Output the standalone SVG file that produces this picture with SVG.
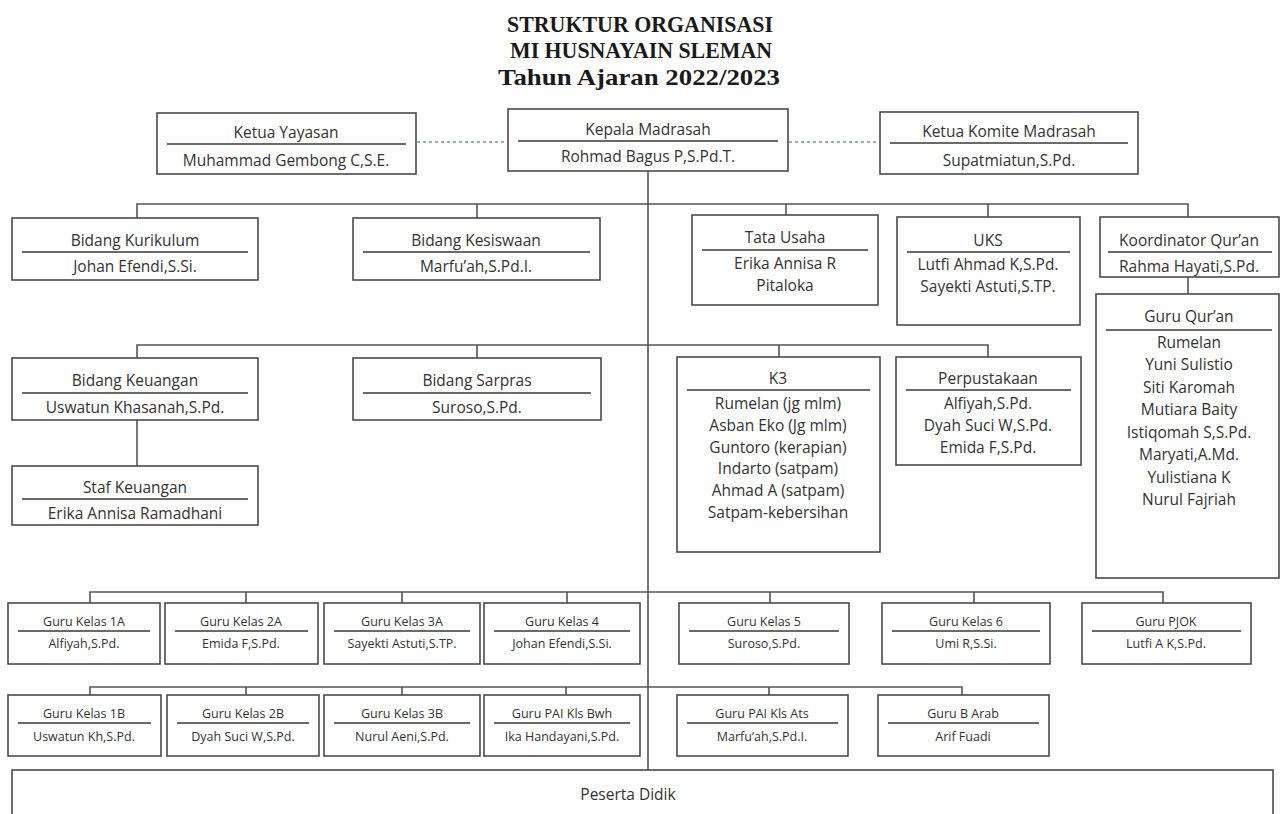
<svg xmlns="http://www.w3.org/2000/svg" width="1280" height="814" viewBox="0 0 1280 814">
<style>
.bg{fill:#ffffff}
.box{fill:#ffffff;stroke:#4a4a4a;stroke-width:1.6}
.sep{stroke:#6a6a6a;stroke-width:2}
.t{font-family:"Open Sans",Lato,"Liberation Sans",sans-serif;font-size:15.5px;fill:#333;text-anchor:middle}
.s{font-family:"Open Sans",Lato,"Liberation Sans",sans-serif;font-size:12.5px;fill:#333;text-anchor:middle}
.title{font-family:"Liberation Serif","DejaVu Serif",serif;font-weight:bold;font-size:24px;fill:#1a1a1a;text-anchor:middle}
.conn{stroke:#555;stroke-width:1.6;fill:none}
.dot{stroke:#8fb0c2;stroke-width:2;stroke-dasharray:3 3;fill:none}
</style>
<rect class="bg" x="0" y="0" width="1280" height="814"/>
<g id="title">
<text class="title" x="640" y="32" textLength="266" lengthAdjust="spacingAndGlyphs">STRUKTUR ORGANISASI</text>
<text class="title" x="641" y="58" textLength="262" lengthAdjust="spacingAndGlyphs">MI HUSNAYAIN SLEMAN</text>
<text class="title" x="639" y="85" textLength="282" lengthAdjust="spacingAndGlyphs">Tahun Ajaran 2022/2023</text>
</g>
<g id="connectors">
<line class="dot" x1="417" y1="142" x2="507" y2="142"/>
<line class="dot" x1="789" y1="142" x2="879" y2="142"/>
<line class="conn" x1="648" y1="171" x2="648" y2="770"/>
<path class="conn" d="M137 218V204H1188V217M477 204V218M786 204V215M988 204V217"/>
<line class="conn" x1="1188" y1="277" x2="1188" y2="294"/>
<path class="conn" d="M137 358V345H988V357M477 345V358M779 345V357"/>
<line class="conn" x1="137" y1="420" x2="137" y2="466"/>
<path class="conn" d="M90 603V592H1163V603M246 592V603M402 592V603M567 592V603M770 592V603M974 592V603"/>
<path class="conn" d="M90 695V687H962V695M246 687V695M402 687V695M566 687V695M769 687V695"/>
</g>
<g id="ketua-yayasan">
<rect class="box" x="157" y="113" width="259" height="61"/>
<line class="sep" x1="167" y1="144" x2="406" y2="144"/>
<text class="t" x="286" y="138">Ketua Yayasan</text>
<text class="t" x="286" y="166">Muhammad Gembong C,S.E.</text>
</g>
<g id="kepala-madrasah">
<rect class="box" x="508" y="109" width="280" height="62"/>
<line class="sep" x1="518" y1="141" x2="778" y2="141"/>
<text class="t" x="648" y="135">Kepala Madrasah</text>
<text class="t" x="648" y="162">Rohmad Bagus P,S.Pd.T.</text>
</g>
<g id="ketua-komite">
<rect class="box" x="880" y="112" width="258" height="62"/>
<line class="sep" x1="890" y1="143" x2="1128" y2="143"/>
<text class="t" x="1009" y="137">Ketua Komite Madrasah</text>
<text class="t" x="1009" y="166">Supatmiatun,S.Pd.</text>
</g>
<g id="bidang-kurikulum">
<rect class="box" x="12" y="218" width="246" height="62"/>
<line class="sep" x1="22" y1="252" x2="248" y2="252"/>
<text class="t" x="135" y="246">Bidang Kurikulum</text>
<text class="t" x="135" y="272">Johan Efendi,S.Si.</text>
</g>
<g id="bidang-kesiswaan">
<rect class="box" x="353" y="218" width="247" height="62"/>
<line class="sep" x1="363" y1="252" x2="590" y2="252"/>
<text class="t" x="476" y="246">Bidang Kesiswaan</text>
<text class="t" x="476" y="272">Marfu’ah,S.Pd.I.</text>
</g>
<g id="tata-usaha">
<rect class="box" x="692" y="215" width="186" height="90"/>
<line class="sep" x1="702" y1="250" x2="868" y2="250"/>
<text class="t" x="785" y="243">Tata Usaha</text>
<text class="t" x="785" y="269">Erika Annisa R</text>
<text class="t" x="785" y="291">Pitaloka</text>
</g>
<g id="uks">
<rect class="box" x="897" y="217" width="183" height="108"/>
<line class="sep" x1="907" y1="252" x2="1070" y2="252"/>
<text class="t" x="988" y="246">UKS</text>
<text class="t" x="988" y="270">Lutfi Ahmad K,S.Pd.</text>
<text class="t" x="988" y="292">Sayekti Astuti,S.TP.</text>
</g>
<g id="koordinator-quran">
<rect class="box" x="1100" y="217" width="179" height="60"/>
<line class="sep" x1="1108" y1="252" x2="1272" y2="252"/>
<text class="t" x="1189" y="246">Koordinator Qur’an</text>
<text class="t" x="1189" y="272">Rahma Hayati,S.Pd.</text>
</g>
<g id="guru-quran">
<rect class="box" x="1096" y="294" width="183" height="284"/>
<line class="sep" x1="1106" y1="330" x2="1272" y2="330"/>
<text class="t" x="1189" y="322">Guru Qur’an</text>
<text class="t" x="1189" y="348">Rumelan</text>
<text class="t" x="1189" y="370">Yuni Sulistio</text>
<text class="t" x="1189" y="393">Siti Karomah</text>
<text class="t" x="1189" y="415">Mutiara Baity</text>
<text class="t" x="1189" y="438">Istiqomah S,S.Pd.</text>
<text class="t" x="1189" y="460">Maryati,A.Md.</text>
<text class="t" x="1189" y="483">Yulistiana K</text>
<text class="t" x="1189" y="505">Nurul Fajriah</text>
</g>
<g id="bidang-keuangan">
<rect class="box" x="12" y="358" width="246" height="62"/>
<line class="sep" x1="22" y1="393" x2="248" y2="393"/>
<text class="t" x="135" y="386">Bidang Keuangan</text>
<text class="t" x="135" y="413">Uswatun Khasanah,S.Pd.</text>
</g>
<g id="staf-keuangan">
<rect class="box" x="12" y="466" width="246" height="59"/>
<line class="sep" x1="22" y1="499" x2="248" y2="499"/>
<text class="t" x="135" y="493">Staf Keuangan</text>
<text class="t" x="135" y="519">Erika Annisa Ramadhani</text>
</g>
<g id="bidang-sarpras">
<rect class="box" x="353" y="358" width="248" height="62"/>
<line class="sep" x1="363" y1="393" x2="591" y2="393"/>
<text class="t" x="477" y="386">Bidang Sarpras</text>
<text class="t" x="477" y="413">Suroso,S.Pd.</text>
</g>
<g id="k3">
<rect class="box" x="677" y="357" width="203" height="195"/>
<line class="sep" x1="687" y1="390" x2="870" y2="390"/>
<text class="t" x="778" y="384">K3</text>
<text class="t" x="778" y="409">Rumelan (jg mlm)</text>
<text class="t" x="778" y="431">Asban Eko (Jg mlm)</text>
<text class="t" x="778" y="453">Guntoro (kerapian)</text>
<text class="t" x="778" y="474">Indarto (satpam)</text>
<text class="t" x="778" y="496">Ahmad A (satpam)</text>
<text class="t" x="778" y="518">Satpam-kebersihan</text>
</g>
<g id="perpustakaan">
<rect class="box" x="896" y="357" width="185" height="108"/>
<line class="sep" x1="906" y1="390" x2="1071" y2="390"/>
<text class="t" x="988" y="384">Perpustakaan</text>
<text class="t" x="988" y="409">Alfiyah,S.Pd.</text>
<text class="t" x="988" y="431">Dyah Suci W,S.Pd.</text>
<text class="t" x="988" y="453">Emida F,S.Pd.</text>
</g>
<g id="guru-kelas-1a">
<rect class="box" x="8" y="603" width="152" height="61"/>
<line class="sep" x1="18" y1="631" x2="150" y2="631"/>
<text class="s" x="84" y="626">Guru Kelas 1A</text>
<text class="s" x="84" y="648">Alfiyah,S.Pd.</text>
</g>
<g id="guru-kelas-2a">
<rect class="box" x="165" y="603" width="153" height="61"/>
<line class="sep" x1="175" y1="631" x2="308" y2="631"/>
<text class="s" x="241" y="626">Guru Kelas 2A</text>
<text class="s" x="241" y="648">Emida F,S.Pd.</text>
</g>
<g id="guru-kelas-3a">
<rect class="box" x="324" y="603" width="156" height="61"/>
<line class="sep" x1="334" y1="631" x2="470" y2="631"/>
<text class="s" x="402" y="626">Guru Kelas 3A</text>
<text class="s" x="402" y="648">Sayekti Astuti,S.TP.</text>
</g>
<g id="guru-kelas-4">
<rect class="box" x="484" y="603" width="156" height="61"/>
<line class="sep" x1="494" y1="631" x2="630" y2="631"/>
<text class="s" x="562" y="626">Guru Kelas 4</text>
<text class="s" x="562" y="648">Johan Efendi,S.Si.</text>
</g>
<g id="guru-kelas-5">
<rect class="box" x="679" y="603" width="170" height="61"/>
<line class="sep" x1="689" y1="631" x2="839" y2="631"/>
<text class="s" x="764" y="626">Guru Kelas 5</text>
<text class="s" x="764" y="648">Suroso,S.Pd.</text>
</g>
<g id="guru-kelas-6">
<rect class="box" x="882" y="603" width="168" height="61"/>
<line class="sep" x1="892" y1="631" x2="1040" y2="631"/>
<text class="s" x="966" y="626">Guru Kelas 6</text>
<text class="s" x="966" y="648">Umi R,S.Si.</text>
</g>
<g id="guru-pjok">
<rect class="box" x="1082" y="603" width="169" height="61"/>
<line class="sep" x1="1092" y1="631" x2="1241" y2="631"/>
<text class="s" x="1166" y="626">Guru PJOK</text>
<text class="s" x="1166" y="648">Lutfi A K,S.Pd.</text>
</g>
<g id="guru-kelas-1b">
<rect class="box" x="8" y="695" width="153" height="61"/>
<line class="sep" x1="18" y1="723" x2="151" y2="723"/>
<text class="s" x="84" y="718">Guru Kelas 1B</text>
<text class="s" x="84" y="741">Uswatun Kh,S.Pd.</text>
</g>
<g id="guru-kelas-2b">
<rect class="box" x="167" y="695" width="152" height="61"/>
<line class="sep" x1="177" y1="723" x2="309" y2="723"/>
<text class="s" x="243" y="718">Guru Kelas 2B</text>
<text class="s" x="243" y="741">Dyah Suci W,S.Pd.</text>
</g>
<g id="guru-kelas-3b">
<rect class="box" x="324" y="695" width="156" height="61"/>
<line class="sep" x1="334" y1="723" x2="470" y2="723"/>
<text class="s" x="402" y="718">Guru Kelas 3B</text>
<text class="s" x="402" y="741">Nurul Aeni,S.Pd.</text>
</g>
<g id="guru-pai-kls-bwh">
<rect class="box" x="484" y="695" width="156" height="61"/>
<line class="sep" x1="494" y1="723" x2="630" y2="723"/>
<text class="s" x="562" y="718">Guru PAI Kls Bwh</text>
<text class="s" x="562" y="741">Ika Handayani,S.Pd.</text>
</g>
<g id="guru-pai-kls-ats">
<rect class="box" x="677" y="695" width="171" height="61"/>
<line class="sep" x1="687" y1="723" x2="838" y2="723"/>
<text class="s" x="762" y="718">Guru PAI Kls Ats</text>
<text class="s" x="762" y="741">Marfu’ah,S.Pd.I.</text>
</g>
<g id="guru-b-arab">
<rect class="box" x="878" y="695" width="171" height="61"/>
<line class="sep" x1="888" y1="723" x2="1039" y2="723"/>
<text class="s" x="963" y="718">Guru B Arab</text>
<text class="s" x="963" y="741">Arif Fuadi</text>
</g>
<g id="peserta-didik">
<rect class="box" x="12" y="770" width="1261" height="60"/>
<text class="t" x="628" y="800">Peserta Didik</text>
</g>
</svg>
